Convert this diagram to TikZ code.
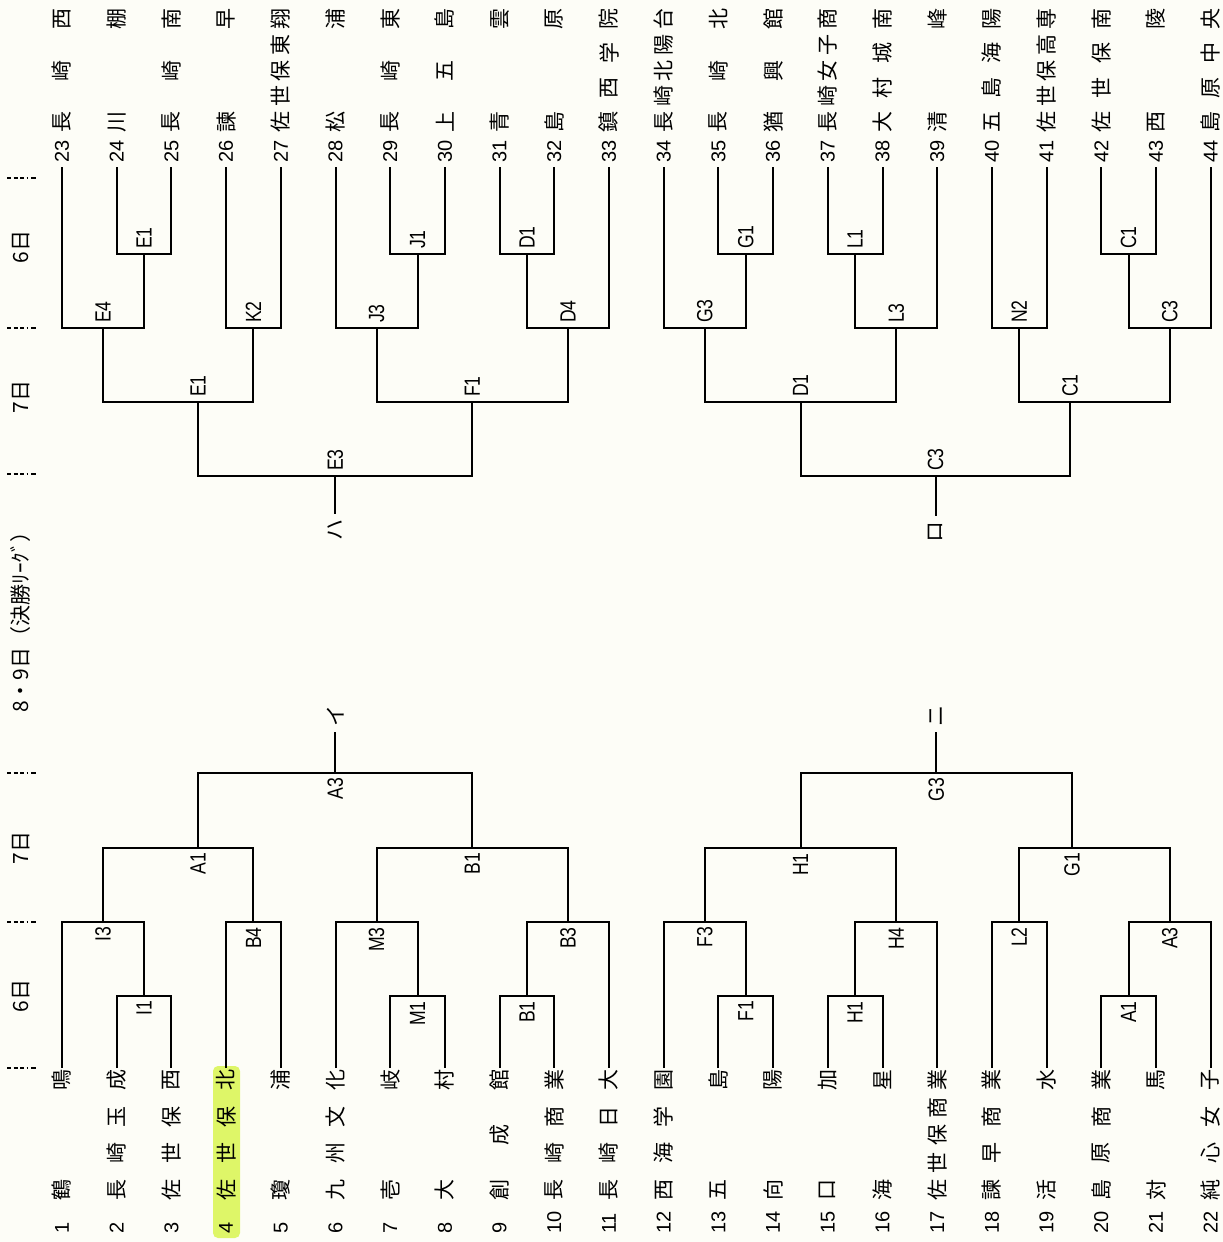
\documentclass[tikz,border=0pt]{standalone}
\usepackage{fontspec}
\setmainfont{Liberation Sans}
\newfontfamily\jpf{Noto Sans CJK JP}
\newfontfamily\labf[FakeStretch=0.8]{Liberation Sans}
\definecolor{hl}{RGB}{222,246,104}
\definecolor{paper}{RGB}{253,253,247}
\tikzset{
 br/.style={line width=2pt, line join=miter},
 ch/.style={rotate=90, inner sep=0pt, font=\jpf\fontsize{21}{24}\selectfont},
 num/.style={rotate=90, inner sep=0pt, font=\fontsize{20}{24}\selectfont},
 lbl/.style={rotate=90, inner sep=0pt, font=\labf\fontsize{22}{24}\selectfont},
 rl/.style={rotate=90, inner sep=5pt, font=\jpf\fontsize{21}{24}\selectfont},
 datelbl/.style={rotate=90, inner sep=0pt, font=\jpf\fontsize{21}{24}\selectfont},
 sepline/.style={line width=1.4pt, dash pattern=on 4pt off 2.5pt},
}
\newcommand\xpos[1]{62+(#1-1)*54.7}
% bottom team: #1 number, #2 chars
\newcommand\botteam[2]{%
  \coordinate (t#1) at ({\xpos{#1}},1068);
  \node[num, anchor=west] (num#1) at ({\xpos{#1}},1234) {#1};
  \foreach \c [count=\k] in {#2} {\xdef\nch{\k}}
  \foreach \c [count=\k] in {#2} {
    \node[ch] (c#1-\k) at ({\xpos{#1}},{1190-(\k-1)*110/(\nch-1)}) {\c};
  }
}
% top team: #1 number, #2 position index, #3 chars
\newcommand\topteam[3]{%
  \coordinate (t#1) at ({\xpos{#2}},167);
  \node[num, anchor=west] (num#1) at ({\xpos{#2}},163) {#1};
  \foreach \c [count=\k] in {#3} {\xdef\nch{\k}}
  \foreach \c [count=\k] in {#3} {
    \node[ch] (c#1-\k) at ({\xpos{#2}},{122-(\k-1)*103/(\nch-1)}) {\c};
  }
}
\newcommand\bmatch[6]{%
  \coordinate (#1) at (#2,#3);
  \draw[br] (#4) |- (#1) -| (#5);
  \node[lbl, anchor=east] (l#1) at (#2,#3+5) {#6};
}
\newcommand\tmatch[6]{%
  \coordinate (#1) at (#2,#3);
  \draw[br] (#4) |- (#1) -| (#5);
  \node[lbl, anchor=west] (l#1) at (#2,#3-5) {#6};
}
\begin{document}
\begin{tikzpicture}[x=1pt,y=-1pt]
\fill[paper] (0,0) rectangle (1223,1242);
\useasboundingbox (0,0) rectangle (1223,1242);
% highlight
\fill[hl, rounded corners=5pt] (213,1066) rectangle (240,1238);
% date column
\foreach \n/\y in {s1/178,s2/328,s3/474,s4/773,s5/922,s6/1068}{
  \coordinate (\n a) at (7,\y); \coordinate (\n b) at (27,\y);
  \coordinate (\n c) at (31,\y); \coordinate (\n d) at (36,\y);
  \draw[sepline] (\n a) -- (\n b);
  \draw[line width=1.4pt] (\n c) -- (\n d);
}
\node[datelbl] (d1) at (21,247) {6日};
\node[datelbl] (d2) at (21,397) {7日};
\node[datelbl] (d3) at (21,617) {8・9日（決勝ﾘｰｸﾞ）};
\node[datelbl] (d4) at (21,848) {7日};
\node[datelbl] (d5) at (21,996) {6日};
% bottom teams
\botteam{1}{鶴,鳴}
\botteam{2}{長,崎,玉,成}
\botteam{3}{佐,世,保,西}
\botteam{4}{佐,世,保,北}
\botteam{5}{瓊,浦}
\botteam{6}{九,州,文,化}
\botteam{7}{壱,岐}
\botteam{8}{大,村}
\botteam{9}{創,成,館}
\botteam{10}{長,崎,商,業}
\botteam{11}{長,崎,日,大}
\botteam{12}{西,海,学,園}
\botteam{13}{五,島}
\botteam{14}{向,陽}
\botteam{15}{口,加}
\botteam{16}{海,星}
\botteam{17}{佐,世,保,商,業}
\botteam{18}{諫,早,商,業}
\botteam{19}{活,水}
\botteam{20}{島,原,商,業}
\botteam{21}{対,馬}
\botteam{22}{純,心,女,子}
% top teams
\topteam{23}{1}{長,崎,西}
\topteam{24}{2}{川,棚}
\topteam{25}{3}{長,崎,南}
\topteam{26}{4}{諫,早}
\topteam{27}{5}{佐,世,保,東,翔}
\topteam{28}{6}{松,浦}
\topteam{29}{7}{長,崎,東}
\topteam{30}{8}{上,五,島}
\topteam{31}{9}{青,雲}
\topteam{32}{10}{島,原}
\topteam{33}{11}{鎮,西,学,院}
\topteam{34}{12}{長,崎,北,陽,台}
\topteam{35}{13}{長,崎,北}
\topteam{36}{14}{猶,興,館}
\topteam{37}{15}{長,崎,女,子,商}
\topteam{38}{16}{大,村,城,南}
\topteam{39}{17}{清,峰}
\topteam{40}{18}{五,島,海,陽}
\topteam{41}{19}{佐,世,保,高,専}
\topteam{42}{20}{佐,世,保,南}
\topteam{43}{21}{西,陵}
\topteam{44}{22}{島,原,中,央}
% bottom bracket
\bmatch{bI1}{144.05}{996}{t2}{t3}{I1}
\bmatch{bM1}{417.55}{996}{t7}{t8}{M1}
\bmatch{bB1}{526.95}{996}{t9}{t10}{B1}
\bmatch{bF1}{745.75}{996}{t13}{t14}{F1}
\bmatch{bH1}{855.15}{996}{t15}{t16}{H1}
\bmatch{bA1}{1128.65}{996}{t20}{t21}{A1}
\bmatch{bI3}{103}{922}{t1}{bI1}{I3}
\bmatch{bB4}{253.45}{922}{t4}{t5}{B4}
\bmatch{bM3}{376.5}{922}{t6}{bM1}{M3}
\bmatch{bB3}{568}{922}{bB1}{t11}{B3}
\bmatch{bF3}{704.7}{922}{t12}{bF1}{F3}
\bmatch{bH4}{896.2}{922}{bH1}{t17}{H4}
\bmatch{bL2}{1019.25}{922}{t18}{t19}{L2}
\bmatch{bA3r}{1169.7}{922}{bA1}{t22}{A3}
\bmatch{bA1s}{198}{848}{bI3}{bB4}{A1}
\bmatch{bB1s}{472.3}{848}{bM3}{bB3}{B1}
\bmatch{bH1s}{800.5}{848}{bF3}{bH4}{H1}
\bmatch{bG1s}{1072}{848}{bL2}{bA3r}{G1}
\bmatch{bA3f}{335.2}{773}{bA1s}{bB1s}{A3}
\bmatch{bG3f}{936.2}{773}{bH1s}{bG1s}{G3}
% top bracket
\tmatch{tE1}{144.05}{254}{t24}{t25}{E1}
\tmatch{tJ1}{417.55}{254}{t29}{t30}{J1}
\tmatch{tD1}{526.95}{254}{t31}{t32}{D1}
\tmatch{tG1}{745.75}{254}{t35}{t36}{G1}
\tmatch{tL1}{855.15}{254}{t37}{t38}{L1}
\tmatch{tC1}{1128.65}{254}{t42}{t43}{C1}
\tmatch{tE4}{103}{328}{t23}{tE1}{E4}
\tmatch{tK2}{253.45}{328}{t26}{t27}{K2}
\tmatch{tJ3}{376.5}{328}{t28}{tJ1}{J3}
\tmatch{tD4}{568}{328}{tD1}{t33}{D4}
\tmatch{tG3}{704.7}{328}{t34}{tG1}{G3}
\tmatch{tL3}{896.2}{328}{tL1}{t39}{L3}
\tmatch{tN2}{1019.25}{328}{t40}{t41}{N2}
\tmatch{tC3}{1169.7}{328}{tC1}{t44}{C3}
\tmatch{tE1s}{198}{402}{tE4}{tK2}{E1}
\tmatch{tF1s}{472.3}{402}{tJ3}{tD4}{F1}
\tmatch{tD1s}{800.5}{402}{tG3}{tL3}{D1}
\tmatch{tC1s}{1070}{402}{tN2}{tC3}{C1}
\tmatch{tE3f}{335.2}{476}{tE1s}{tF1s}{E3}
\tmatch{tC3f}{935.5}{476}{tD1s}{tC1s}{C3}
% final leads
\node[rl] (ri) at (335.2,716) {イ};
\node[rl] (rro) at (935.5,532) {ロ};
\node[rl] (rha) at (335.2,530) {ハ};
\node[rl] (rni) at (936.2,716) {ニ};
\draw[br] (bA3f) -- (ri);
\draw[br] (bG3f) -- (rni);
\draw[br] (tE3f) -- (rha);
\draw[br] (tC3f) -- (rro);
\end{tikzpicture}
\end{document}
